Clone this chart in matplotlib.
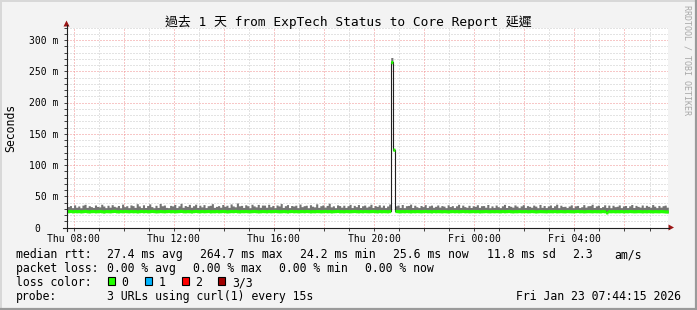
import matplotlib
matplotlib.use("Agg")
import matplotlib.pyplot as plt
import matplotlib.dates as mdates
from matplotlib.lines import Line2D
from matplotlib.patches import Rectangle, Polygon
import numpy as np
import pandas as pd

# ---------------- data (5-minute bins, starting Thu 07:45) ----------------
start_time = "2026-01-22 07:45"
view_start = "2026-01-22 07:44:15"
view_end = "2026-01-23 07:44:15"

median_ms = [
    26.1, 26.4, 25.9, 26.3, 26.0, 26.2, 25.8, 26.1, 26.5, 26.0, 25.7, 26.2,
    26.3, 25.9, 26.1, 26.4, 26.0, 25.6, 26.2, 26.1, 25.9, 26.3, 26.6, 26.0,
    25.8, 26.2, 26.0, 26.4, 26.1, 25.9, 26.3, 26.0, 26.2, 25.7, 26.1, 26.4,
    26.0, 26.3, 25.9, 26.1, 26.5, 26.2, 25.8, 26.0, 26.3, 26.1, 25.9, 26.2,
    26.4, 26.0, 26.2, 25.8, 26.1, 26.3, 26.6, 26.0, 25.9, 26.2, 26.1, 25.7,
    26.2, 26.5, 26.1, 25.9, 26.3, 26.0, 26.2, 26.4, 25.8, 26.1, 26.0, 26.3,
    25.9, 26.1, 26.4, 26.2, 25.7, 26.0, 26.3, 26.1, 26.5, 26.0, 25.8, 26.2,
    26.1, 26.3, 26.0, 25.9, 26.2, 26.4, 26.1, 25.8, 26.0, 26.3, 26.2, 25.9,
    26.3, 26.0, 26.2, 26.5, 26.1, 25.9, 26.0, 26.3, 26.1, 25.7, 26.2, 26.4,
    26.0, 26.2, 25.9, 26.1, 26.3, 26.0, 26.4, 26.2, 25.8, 26.1, 26.0, 26.3,
    26.2, 25.9, 26.1, 26.4, 26.0, 26.2, 25.8, 26.1, 26.3, 26.5, 26.0, 26.1,
    25.9, 26.3, 26.1, 26.0, 26.2, 26.4, 26.1, 25.9, 26.2, 26.0, 26.3, 26.1,
    26.0, 26.2, 26.4, 26.1, 25.8, 26.3, 26.0, 26.2, 26.1, 25.9, 26.3, 264.7,
    124.5, 26.4, 26.1, 25.9, 26.2, 26.0, 26.3, 26.1, 25.8, 26.2, 26.0, 26.3,
    26.1, 25.9, 26.2, 26.4, 26.0, 26.1, 25.8, 26.3, 26.0, 26.2, 26.1, 25.9,
    26.2, 26.0, 25.7, 26.1, 26.3, 26.0, 26.2, 25.9, 26.1, 26.4, 26.0, 26.2,
    25.9, 26.1, 26.3, 26.0, 26.2, 25.8, 26.0, 26.1, 26.3, 26.0, 25.9, 26.2,
    26.0, 26.2, 26.1, 25.9, 26.3, 26.0, 26.2, 26.4, 26.0, 25.8, 26.1, 26.0,
    26.3, 26.0, 26.1, 26.2, 25.9, 26.0, 26.3, 26.1, 25.7, 26.0, 26.2, 26.1,
    26.0, 25.8, 26.2, 26.1, 26.0, 26.3, 25.9, 26.1, 26.2, 26.0, 25.9, 26.3,
    26.1, 26.0, 25.9, 26.2, 26.4, 26.0, 26.1, 25.8, 26.0, 26.2, 26.1, 25.9,
    26.2, 26.0, 26.1, 25.9, 26.3, 26.0, 24.2, 26.1, 26.0, 26.2, 25.9, 26.1,
    26.0, 26.2, 25.8, 26.1, 26.0, 26.3, 26.1, 25.9, 26.0, 26.2, 26.1, 25.8,
    26.1, 25.9, 26.2, 26.0, 25.8, 26.1, 26.0, 25.9, 26.2, 26.0, 25.7, 25.6,
]

smoke_hi_ms = [
    33.5, 35.1, 31.8, 36.2, 32.4, 34.5, 31.6, 35.8, 37.1, 32.2, 34.9, 33.4,
    32.1, 36.0, 33.7, 32.9, 37.2, 34.4, 31.8, 35.6, 32.5, 36.5, 33.9, 32.7,
    35.2, 31.6, 37.4, 33.3, 34.9, 31.8, 36.1, 35.0, 32.2, 38.1, 34.5, 31.9,
    36.3, 32.0, 35.1, 37.8, 33.4, 31.7, 35.5, 32.1, 38.4, 34.8, 35.9, 32.2,
    31.8, 35.4, 34.6, 36.9, 31.9, 34.7, 38.6, 32.3, 35.2, 33.8, 37.0, 32.4,
    34.9, 37.3, 32.1, 35.7, 33.0, 36.6, 31.9, 34.8, 35.5, 38.1, 32.2, 33.8,
    35.0, 32.4, 36.8, 33.9, 35.6, 32.2, 37.7, 34.5, 33.1, 39.2, 34.7, 35.4,
    32.1, 36.3, 34.8, 31.7, 37.2, 34.6, 33.0, 36.9, 32.3, 35.9, 35.8, 32.4,
    37.1, 33.2, 35.3, 31.8, 36.0, 34.5, 38.3, 32.1, 34.9, 36.6, 31.9, 35.2,
    34.4, 35.7, 31.8, 37.5, 33.3, 34.9, 35.6, 31.7, 36.4, 34.1, 33.0, 37.9,
    32.2, 34.9, 36.1, 32.6, 35.3, 38.8, 33.0, 34.7, 31.8, 36.2, 35.1, 32.5,
    35.6, 32.1, 34.8, 37.0, 31.9, 35.4, 33.3, 36.7, 32.0, 34.8, 35.9, 32.6,
    34.3, 37.2, 32.0, 35.1, 33.8, 36.3, 32.6, 35.7, 31.9, 34.4, 37.6, 272.0,
    126.0, 34.7, 35.9, 32.1, 36.8, 31.8, 34.9, 35.3, 37.4, 32.0, 35.6, 33.2,
    31.9, 35.2, 33.4, 36.6, 32.0, 34.7, 35.8, 32.3, 33.9, 36.0, 32.6, 35.1,
    34.2, 31.8, 36.3, 33.5, 35.0, 31.9, 34.7, 37.1, 32.1, 35.8, 33.4, 32.3,
    35.5, 32.0, 34.8, 33.9, 36.4, 32.2, 34.9, 35.1, 32.4, 36.8, 31.7, 34.6,
    32.1, 35.9, 33.3, 31.8, 34.7, 37.0, 32.0, 35.2, 33.9, 32.5, 36.1, 34.2,
    31.8, 34.6, 36.5, 32.1, 35.0, 33.9, 32.4, 35.8, 34.2, 31.7, 36.9, 32.3,
    35.2, 31.9, 34.5, 36.0, 32.1, 34.8, 37.3, 31.8, 35.6, 33.5, 34.0, 31.9,
    34.4, 36.2, 31.8, 34.7, 35.3, 31.9, 33.2, 36.6, 32.5, 34.8, 35.0, 37.2,
    32.0, 34.6, 35.7, 31.9, 33.4, 36.3, 32.1, 35.8, 31.7, 35.6, 33.3, 34.0,
    36.1, 31.8, 34.5, 35.2, 31.9, 34.7, 36.8, 32.0, 35.4, 33.8, 32.6, 36.0,
    32.2, 35.5, 33.9, 32.4, 36.7, 34.1, 31.8, 35.3, 32.6, 34.9, 35.8, 32.5,
]

smoke_lo_ms = [
    24.6, 24.9, 24.3, 24.8, 24.5, 24.7, 24.1, 24.6, 25.0, 24.4, 24.2, 24.8,
    24.7, 24.3, 24.5, 24.9, 24.4, 23.9, 24.6, 24.5, 24.2, 24.8, 25.1, 24.4,
    24.1, 24.6, 24.4, 24.9, 24.5, 24.2, 24.7, 24.3, 24.6, 24.0, 24.5, 24.8,
    24.4, 24.7, 24.2, 24.5, 25.0, 24.6, 24.1, 24.4, 24.7, 24.5, 24.2, 24.6,
    24.8, 24.3, 24.6, 24.1, 24.5, 24.7, 25.1, 24.4, 24.2, 24.6, 24.5, 24.0,
    24.6, 24.9, 24.5, 24.2, 24.7, 24.4, 24.6, 24.8, 24.1, 24.5, 24.3, 24.7,
    24.2, 24.5, 24.8, 24.6, 24.0, 24.4, 24.7, 24.5, 24.9, 24.3, 24.1, 24.6,
    24.5, 24.7, 24.4, 24.2, 24.6, 24.8, 24.5, 24.1, 24.4, 24.7, 24.6, 24.2,
    24.7, 24.4, 24.6, 24.9, 24.5, 24.2, 24.4, 24.7, 24.5, 24.0, 24.6, 24.8,
    24.4, 24.6, 24.2, 24.5, 24.7, 24.4, 24.8, 24.6, 24.1, 24.5, 24.3, 24.7,
    24.6, 24.2, 24.5, 24.8, 24.4, 24.6, 24.1, 24.5, 24.7, 24.9, 24.4, 24.5,
    24.2, 24.7, 24.5, 24.3, 24.6, 24.8, 24.5, 24.2, 24.6, 24.4, 24.7, 24.5,
    24.4, 24.6, 24.8, 24.5, 24.1, 24.7, 24.4, 24.6, 24.5, 24.2, 24.7, 262.0,
    123.5, 24.8, 24.5, 24.2, 24.6, 24.4, 24.7, 24.5, 24.1, 24.6, 24.4, 24.7,
    24.5, 24.2, 24.6, 24.8, 24.4, 24.5, 24.1, 24.7, 24.4, 24.6, 24.5, 24.2,
    24.6, 24.4, 24.0, 24.5, 24.7, 24.4, 24.6, 24.2, 24.5, 24.8, 24.4, 24.6,
    24.2, 24.5, 24.7, 24.4, 24.6, 24.1, 24.4, 24.5, 24.7, 24.4, 24.2, 24.6,
    24.4, 24.6, 24.5, 24.2, 24.7, 24.4, 24.6, 24.8, 24.4, 24.1, 24.5, 24.4,
    24.7, 24.4, 24.5, 24.6, 24.2, 24.4, 24.7, 24.5, 24.0, 24.4, 24.6, 24.5,
    24.4, 24.1, 24.6, 24.5, 24.4, 24.7, 24.2, 24.5, 24.6, 24.4, 24.2, 24.7,
    24.5, 24.4, 24.2, 24.6, 24.8, 24.4, 24.5, 24.1, 24.4, 24.6, 24.5, 24.2,
    24.6, 24.4, 24.5, 24.2, 24.7, 24.4, 22.6, 24.5, 24.4, 24.6, 24.2, 24.5,
    24.4, 24.6, 24.1, 24.5, 24.4, 24.7, 24.5, 24.2, 24.4, 24.6, 24.5, 24.1,
    24.5, 24.2, 24.6, 24.4, 24.1, 24.5, 24.4, 24.2, 24.6, 24.4, 24.0, 23.9,
]

y_ticks_ms = [0, 50, 100, 150, 200, 250, 300]
y_tick_labels = ["0   ", "50 m", "100 m", "150 m", "200 m", "250 m", "300 m"]
x_label_times = ["2026-01-22 08:00", "2026-01-22 12:00", "2026-01-22 16:00",
                 "2026-01-22 20:00", "2026-01-23 00:00", "2026-01-23 04:00"]

title = "過去 1 天 from ExpTech Status to Core Report 延遲"
legend_rows = [
    ["median rtt:", "27.4 ms avg", "264.7 ms max", "24.2 ms min", "25.6 ms now", "11.8 ms sd", "2.3", "am/s"],
    ["packet loss:", "0.00 % avg", "0.00 % max", "0.00 % min", "0.00 % now"],
]
loss_labels = ["0", "1", "2", "3/3"]
loss_colors = ["#22ff00", "#00b4ff", "#ff0000", "#a00000"]
probe_text = "3 URLs using curl(1) every 15s"
stamp_text = "Fri Jan 23 07:44:15 2026"

# ---------------- figure ----------------
W, H = 697, 310
FONT = ["DejaVu Sans Mono", "Noto Sans CJK TC"]
plt.rcParams["font.family"] = FONT

fig = plt.figure(figsize=(W / 100, H / 100), dpi=100, facecolor="#f3f3f3")

def fx(x):
    return x / W

def fy(y):
    return 1 - y / H

AX_L, AX_R, AX_T, AX_B = 67, 668, 27.5, 227.5
ax = fig.add_axes([fx(AX_L), fy(AX_B), (AX_R - AX_L) / W, (AX_B - AX_T) / H])
ax.set_facecolor("white")
for s in ax.spines.values():
    s.set_visible(False)

t_edges = pd.date_range(start_time, periods=len(median_ms) + 1, freq="5min")
xe = mdates.date2num(t_edges.to_pydatetime())
med = np.array(median_ms)
hi = np.array(smoke_hi_ms)
lo = np.array(smoke_lo_ms)
med_e = np.append(med, med[-1])
hi_e = np.append(hi, hi[-1])
lo_e = np.append(lo, lo[-1])

x0 = mdates.date2num(pd.Timestamp(view_start).to_pydatetime())
x1 = mdates.date2num(pd.Timestamp(view_end).to_pydatetime())
ax.set_xlim(x0, x1)
ax.set_ylim(0, 320)

# grid
dot = (0, (1, 2))
for v in range(10, 321, 10):
    if v % 50 == 0:
        ax.axhline(v, color="#f09090", lw=0.72, ls=dot, zorder=1)
    else:
        ax.axhline(v, color="#c8c8c8", lw=0.72, ls=dot, zorder=0.9)
hours = pd.date_range("2026-01-22 08:00", "2026-01-23 07:00", freq="1h")
for h in hours:
    xv = mdates.date2num(h.to_pydatetime())
    if h.hour % 2 == 0:
        ax.axvline(xv, color="#f09090", lw=0.72, ls=dot, zorder=1)
    else:
        ax.axvline(xv, color="#c8c8c8", lw=0.72, ls=dot, zorder=0.9)

# smoke
ax.fill_between(xe, lo_e, hi_e, step="post", color="#747474", lw=0, zorder=2)
# median black line
ax.step(xe, med_e, where="post", color="#202020", lw=0.8, zorder=3)
# median green band
ax.fill_between(xe, med_e - 2.6, med_e + 2.6, step="post", color=loss_colors[0], lw=0, zorder=4)

# ticks
ax.set_yticks(y_ticks_ms)
ax.set_yticklabels(y_tick_labels)
ax.set_yticks(range(10, 321, 10), minor=True)
ax.tick_params(axis="y", which="both", direction="out", length=2.2, width=0.7, color="#404040",
               pad=4.2, labelsize=7)
xt = [mdates.date2num(pd.Timestamp(t).to_pydatetime()) for t in x_label_times]
ax.set_xticks(xt)
ax.set_xticklabels([pd.Timestamp(t).strftime("%a %H:%M") for t in x_label_times])
ax.set_xticks(mdates.date2num(hours.to_pydatetime()), minor=True)
ax.tick_params(axis="x", which="both", direction="out", length=2.2, width=0.7, color="#404040",
               pad=2.5, labelsize=7)

# axis lines and arrows (in figure pixels)
def fline(xs, ys, **kw):
    fig.add_artist(Line2D([fx(v) for v in xs], [fy(v) for v in ys], transform=fig.transFigure, **kw))

fline([AX_L - 0.5, AX_L - 0.5], [231, 25], color="#202020", lw=0.8)
fline([63, 669], [AX_B, AX_B], color="#202020", lw=0.8)
arrow_c = "#9b1515"
fig.add_artist(Polygon([(fx(AX_L - 3.5), fy(26.5)), (fx(AX_L + 2.5), fy(26.5)), (fx(AX_L - 0.5), fy(20.5))],
                       closed=True, transform=fig.transFigure, color=arrow_c, lw=0))
fig.add_artist(Polygon([(fx(668.5), fy(AX_B - 3)), (fx(668.5), fy(AX_B + 3)), (fx(674), fy(AX_B))],
                       closed=True, transform=fig.transFigure, color=arrow_c, lw=0))

# frame shading
fline([0.5, 0.5], [310, 0.5], color="#d8d8d8", lw=1.4)
fline([0, 697], [0.5, 0.5], color="#d8d8d8", lw=1.4)
fline([696, 696], [0, 310], color="#9a9a9a", lw=1.6)
fline([0, 697], [309, 309], color="#9a9a9a", lw=1.6)

# title, y label, watermark
fig.text(fx(348.5), fy(26), title, ha="center", va="baseline", fontsize=9.3, color="black")
fig.text(fx(11), fy(128), "Seconds", rotation=90, ha="center", va="center", fontsize=8.3, color="black")
fig.text(fx(687.5), fy(5), "RRDTOOL / TOBI OETIKER", rotation=270, ha="center", va="top",
         fontsize=6, color="#a8a8a8")

# legend
LFS = 8.3
row_y = [258, 272, 286, 300]
row1_x = [16, 107, 200, 300, 393, 487, 572, 614]
row2_x = [16, 107, 193, 279, 365]
for txt, x in zip(legend_rows[0], row1_x):
    fig.text(fx(x), fy(row_y[0]), txt, ha="left", va="baseline", fontsize=LFS)
for txt, x in zip(legend_rows[1], row2_x):
    fig.text(fx(x), fy(row_y[1]), txt, ha="left", va="baseline", fontsize=LFS)
fig.text(fx(16), fy(row_y[2]), "loss color:", ha="left", va="baseline", fontsize=LFS)
box_x = [108, 145, 181.7, 218.3]
for lab, col, bx in zip(loss_labels, loss_colors, box_x):
    fig.add_artist(Rectangle((fx(bx), fy(284.5)), 7 / W, 7.5 / H, transform=fig.transFigure,
                             facecolor=col, edgecolor="black", lw=0.8))
    fig.text(fx(bx + 13.5), fy(row_y[2]), lab, ha="left", va="baseline", fontsize=LFS)
fig.text(fx(16), fy(row_y[3]), "probe:", ha="left", va="baseline", fontsize=LFS)
fig.text(fx(107), fy(row_y[3]), probe_text, ha="left", va="baseline", fontsize=LFS)
fig.text(fx(681), fy(row_y[3] - 0.5), stamp_text, ha="right", va="baseline", fontsize=LFS)

fig.savefig("out.png", dpi=100, facecolor=fig.get_facecolor())
